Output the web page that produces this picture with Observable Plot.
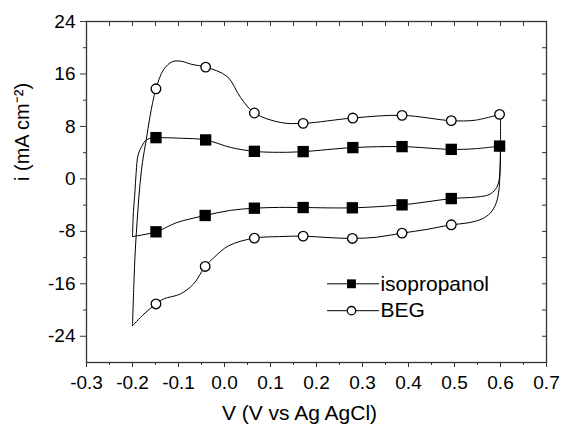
<!DOCTYPE html>
<html>
<head>
<meta charset="utf-8">
<script src="https://cdn.jsdelivr.net/npm/d3@7"></script>
<script src="https://cdn.jsdelivr.net/npm/@observablehq/plot@0.6"></script>
<style>
  html, body { margin: 0; padding: 0; background: #fff; }
  #chart { width: 561px; height: 429px; }
</style>
</head>
<body>
<div id="chart"></div>
<script>
// ---- tick values ----
const xMajor = [-0.3, -0.2, -0.1, 0.0, 0.1, 0.2, 0.3, 0.4, 0.5, 0.6, 0.7];
const xMinor = [-0.25, -0.15, -0.05, 0.05, 0.15, 0.25, 0.35, 0.45, 0.55, 0.65];
const yMajor = [-24, -16, -8, 0, 8, 16, 24];
const yMinor = [-20, -12, -4, 4, 12, 20];

// ---- series names ----
const seriesNames = ["isopropanol", "BEG"];
const xTitle = "V (V vs Ag AgCl)";
const yTitle = "i (mA cm\u207B\u00B2)";

// ---- marker points ----
const isoUpV = [-0.149, -0.041, 0.065, 0.171, 0.279, 0.386, 0.493, 0.598];
const isoUpI = [6.29, 5.94, 4.20, 4.16, 4.77, 4.92, 4.50, 5.00];
const isoDnV = [-0.149, -0.042, 0.065, 0.171, 0.278, 0.386, 0.493];
const isoDnI = [-8.07, -5.58, -4.47, -4.37, -4.41, -3.96, -3.00];
const begUpV = [-0.149, -0.041, 0.065, 0.171, 0.279, 0.386, 0.493, 0.598];
const begUpI = [13.74, 17.05, 10.05, 8.47, 9.28, 9.69, 8.88, 9.84];
const begDnV = [-0.149, -0.042, 0.065, 0.171, 0.278, 0.386, 0.493];
const begDnI = [-19.07, -13.35, -9.03, -8.73, -9.08, -8.27, -7.00];

// ---- traced curves ----
const isoSweepUpV = [-0.200, -0.198, -0.195, -0.192, -0.188, -0.181, -0.172, -0.160, -0.149, -0.095, -0.041, 0.013, 0.065, 0.120, 0.171, 0.279, 0.386, 0.493, 0.545, 0.598];
const isoSweepUpI = [-8.8, -5.0, -2.3, 1.0, 3.6, 4.8, 5.8, 6.25, 6.29, 6.2, 5.94, 4.8, 4.20, 4.05, 4.16, 4.77, 4.92, 4.50, 4.6, 5.00];
const isoSweepDnV = [0.600, 0.599, 0.596, 0.589, 0.575, 0.550, 0.493, 0.440, 0.386, 0.278, 0.171, 0.120, 0.065, 0.013, -0.042, -0.103, -0.149, -0.200];
const isoSweepDnI = [5.0, 1.5, -0.5, -1.6, -2.4, -2.75, -3.00, -3.5, -3.96, -4.41, -4.37, -4.35, -4.47, -4.8, -5.58, -6.65, -8.07, -8.8];
const begSweepUpV = [-0.200, -0.197, -0.194, -0.189, -0.184, -0.178, -0.170, -0.162, -0.149, -0.132, -0.114, -0.096, -0.071, -0.041, 0.006, 0.035, 0.065, 0.122, 0.171, 0.279, 0.386, 0.493, 0.545, 0.598];
const begSweepUpI = [-22.4, -16.0, -11.0, -5.5, -1.0, 2.7, 6.0, 9.5, 13.74, 16.7, 17.85, 17.96, 17.46, 17.05, 15.6, 12.4, 10.05, 8.6, 8.47, 9.28, 9.69, 8.88, 8.95, 9.84];
const begSweepDnV = [0.600, 0.600, 0.599, 0.596, 0.590, 0.578, 0.560, 0.530, 0.493, 0.440, 0.386, 0.330, 0.278, 0.225, 0.171, 0.120, 0.065, 0.009, -0.023, -0.042, -0.067, -0.096, -0.132, -0.149, -0.175, -0.200];
const begSweepDnI = [9.84, 5.0, 1.0, -2.0, -3.8, -5.2, -6.1, -6.7, -7.00, -7.7, -8.27, -8.9, -9.08, -8.95, -8.73, -8.8, -9.03, -10.2, -12.0, -13.35, -16.0, -17.55, -18.3, -19.07, -20.6, -22.4];

// ---- build tables ----
const zip = (vs, is, extra) => vs.map((v, k) => ({V: v, i: is[k], ...extra}));
const curves = [
  ...zip(isoSweepUpV, isoSweepUpI, {seg: "iso-up"}),
  ...zip(isoSweepDnV, isoSweepDnI, {seg: "iso-dn"}),
  ...zip(begSweepUpV, begSweepUpI, {seg: "beg-up"}),
  ...zip(begSweepDnV, begSweepDnI, {seg: "beg-dn"})
];
const isoPts = [...zip(isoUpV, isoUpI, {}), ...zip(isoDnV, isoDnI, {})];
const begPts = [...zip(begUpV, begUpI, {}), ...zip(begDnV, begDnI, {})];

// legend layout (data-space placement)
const legX1 = 0.223, legX2 = 0.336, legXm = 0.276, legXt = 0.339;
const legY = [-16.0, -20.1];
const legend = seriesNames.map((n, k) => ({name: n, y: legY[k]}));

const blank = () => "";

const chart = Plot.plot({
  width: 561,
  height: 429,
  marginLeft: 86,
  marginRight: 15,
  marginTop: 21,
  marginBottom: 67,
  style: {fontFamily: "'Liberation Sans', Arial, Helvetica, sans-serif", fontSize: "19px", color: "#000", background: "#fff"},
  x: {domain: [-0.3, 0.7], label: null},
  y: {domain: [-28, 24], label: null},
  marks: [
    Plot.frame({stroke: "#333", strokeWidth: 1.3}),
    // bottom axis
    Plot.axisX({ticks: xMajor, tickSize: 0, tickPadding: 13, tickFormat: d => d.toFixed(1), label: null}),
    Plot.axisX({ticks: xMajor, tickSize: 5, tickFormat: blank, label: null, stroke: "#333"}),
    Plot.axisX({ticks: xMinor, tickSize: 3, tickFormat: blank, label: null, stroke: "#333"}),
    // top axis (inward)
    Plot.axisX({anchor: "top", ticks: [...xMajor, ...xMinor], tickSize: -4, tickFormat: blank, label: null, stroke: "#333"}),
    // left axis
    Plot.axisY({ticks: yMajor, tickSize: 0, tickPadding: 11, tickFormat: d => String(d), label: null}),
    Plot.axisY({ticks: yMajor, tickSize: 6, tickFormat: blank, label: null, stroke: "#333"}),
    Plot.axisY({ticks: yMinor, tickSize: 3, tickFormat: blank, label: null, stroke: "#333"}),
    // right axis (inward)
    Plot.axisY({anchor: "right", ticks: [...yMajor, ...yMinor], tickSize: -5, tickFormat: blank, label: null, stroke: "#333"}),
    // axis titles
    Plot.text([xTitle], {frameAnchor: "bottom", dy: 57, dx: -17, fontSize: 21, fill: "#000"}),
    Plot.text([yTitle], {frameAnchor: "left", rotate: -90, dx: -64, dy: -11, fontSize: 20, fill: "#000"}),
    // curves
    Plot.line(curves, {x: "V", y: "i", z: "seg", curve: "catmull-rom", stroke: "#000", strokeWidth: 1}),
    // markers
    Plot.dot(isoPts, {x: "V", y: "i", symbol: "square", r: 6.4, fill: "#000", stroke: "none"}),
    Plot.dot(begPts, {x: "V", y: "i", symbol: "circle", r: 4.8, fill: "#fff", stroke: "#000", strokeWidth: 1.3}),
    // legend
    Plot.link(legend, {x1: () => legX1, x2: () => legX2, y1: "y", y2: "y", stroke: "#000", strokeWidth: 1}),
    Plot.dot(legend.slice(0, 1), {x: () => legXm, y: "y", symbol: "square", r: 5, fill: "#000", stroke: "none"}),
    Plot.dot(legend.slice(1), {x: () => legXm, y: "y", symbol: "circle", r: 4.2, fill: "#fff", stroke: "#000", strokeWidth: 1.3}),
    Plot.text(legend, {x: () => legXt, y: "y", text: "name", textAnchor: "start", fontSize: 21, fill: "#000"})
  ]
});
document.getElementById("chart").appendChild(chart);
</script>
</body>
</html>
